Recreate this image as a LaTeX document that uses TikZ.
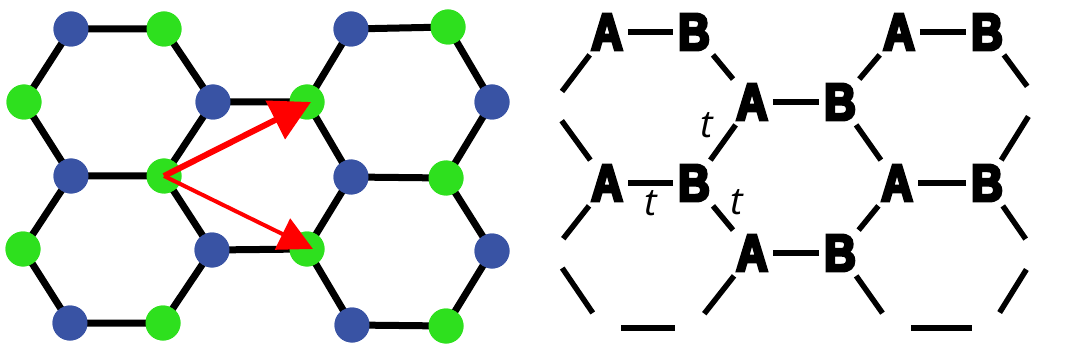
\documentclass[tikz,border=0pt]{standalone}
\usepackage{fontspec}
\usetikzlibrary{arrows.meta}
\newfontfamily\abfont[FakeBold=6,FakeStretch=0.84]{Liberation Sans Bold}
\newfontfamily\tfont{Open Sans}
\definecolor{dotblue}{RGB}{57,83,164}
\definecolor{dotgreen}{RGB}{46,224,30}
\definecolor{arrred}{RGB}{255,0,0}
\begin{document}
\begin{tikzpicture}[x=1pt,y=-1pt,
  bluedot/.style={circle,fill=dotblue,minimum size=35pt,inner sep=0},
  greendot/.style={circle,fill=dotgreen,minimum size=35pt,inner sep=0},
  latt/.style={line width=7pt,black},
  hop/.style={-{Triangle[length=40pt,width=42pt]},line width=6pt,arrred},
  hopthin/.style={-{Triangle[length=34pt,width=34pt]},line width=4pt,arrred},
  lab/.style={font=\abfont\fontsize{52}{52}\selectfont,inner sep=0,outer sep=5pt,text depth=0pt},
  hole/.style={circle,minimum size=36pt,inner sep=0},
  bond/.style={line width=5.5pt,black},
  tlab/.style={font=\tfont\itshape\fontsize{38}{38}\selectfont,inner sep=0}]
\useasboundingbox (0,0) rectangle (1067,358);
% ---------- left panel ----------
\node[bluedot] (b1) at (71,29) {};
\node[greendot] (g1) at (164,29) {};
\node[bluedot] (b2) at (351,29) {};
\node[greendot] (g2) at (448,27) {};
\node[greendot] (g3) at (24,102) {};
\node[bluedot] (b3) at (213,102) {};
\node[greendot] (g4) at (307,102) {};
\node[bluedot] (b4) at (492,102) {};
\node[bluedot] (b5) at (71,176) {};
\node[greendot] (g5) at (164,176) {};
\node[bluedot] (b6) at (351,177) {};
\node[greendot] (g6) at (446,178) {};
\node[greendot] (g7) at (23,249) {};
\node[bluedot] (b7) at (212,250) {};
\node[greendot] (g8) at (307,249) {};
\node[bluedot] (b8) at (492,251) {};
\node[bluedot] (b9) at (70,323) {};
\node[greendot] (g9) at (163,323) {};
\node[bluedot] (b10) at (352,325) {};
\node[greendot] (g10) at (446,326) {};
% bonds (dots are redrawn on top afterwards)
\draw[latt] (b1.center) -- (g1.center) -- (b3.center) -- (g5.center) -- (b5.center) -- (g3.center) -- cycle;
\draw[latt] (b5.center) -- (g7.center) -- (b9.center) -- (g9.center) -- (b7.center) -- (g5.center);
\draw[latt] (b3.center) -- (g4.center) -- (b6.center) -- (g8.center) -- (b7.center);
\draw[latt] (b2.center) -- (g2.center) -- (b4.center) -- (g6.center) -- (b6.center);
\draw[latt] (g4.center) -- (b2.center);
\draw[latt] (g6.center) -- (b8.center) -- (g10.center) -- (b10.center) -- (g8.center);
\foreach \n/\s in {b1/bluedot,g1/greendot,b2/bluedot,g2/greendot,g3/greendot,b3/bluedot,g4/greendot,b4/bluedot,b5/bluedot,g5/greendot,b6/bluedot,g6/greendot,g7/greendot,b7/bluedot,g8/greendot,b8/bluedot,b9/bluedot,g9/greendot,b10/bluedot,g10/greendot}
  \node[\s] at (\n) {};
\draw[hop] (g5.center) -- ([xshift=4pt]g4.center);
\draw[hopthin] (g5.center) -- ([xshift=6pt]g8.center);
% ---------- right panel ----------
\node[lab] (A1) at (607,32) {A};
\node[lab] (B1) at (694,32) {B};
\node[lab] (A1r) at (899,32) {A};
\node[lab] (B1r) at (987,32) {B};
\node[lab] (A2) at (752,102) {A};
\node[lab] (B2) at (840,102) {B};
\node[lab] (A3) at (607,183) {A};
\node[lab] (B3) at (694,183) {B};
\node[lab] (A3r) at (897,183) {A};
\node[lab] (B3r) at (987,183) {B};
\node[lab] (A4) at (752,253) {A};
\node[lab] (B4) at (840,253) {B};
\node[hole] (L1) at (551,106) {};
\node[hole] (L2) at (552,253) {};
\node[hole] (R1) at (1038,101) {};
\node[hole] (R2) at (1036,254) {};
\node[hole] (D1) at (603,328) {};
\node[hole] (D2) at (693,328) {};
\node[hole] (D3) at (893,328) {};
\node[hole] (D4) at (990,328) {};
\foreach \a/\b in {A1/B1,B1/A2,A2/B3,B3/A3,A3/L1,L1/A1,
                   A2/B2,B2/A3r,A3r/B4,B4/A4,A4/B3,
                   A1r/B1r,B1r/R1,R1/B3r,B3r/A3r,B2/A1r,
                   A3/L2,L2/D1,D1/D2,D2/A4,
                   B3r/R2,R2/D4,D4/D3,D3/B4}
  \draw[bond] (\a) -- (\b);
\node[tlab] (t1) at (707,125) {t};
\node[tlab] (t2) at (651,203) {t};
\node[tlab] (t3) at (737,202) {t};
\end{tikzpicture}
\end{document}
